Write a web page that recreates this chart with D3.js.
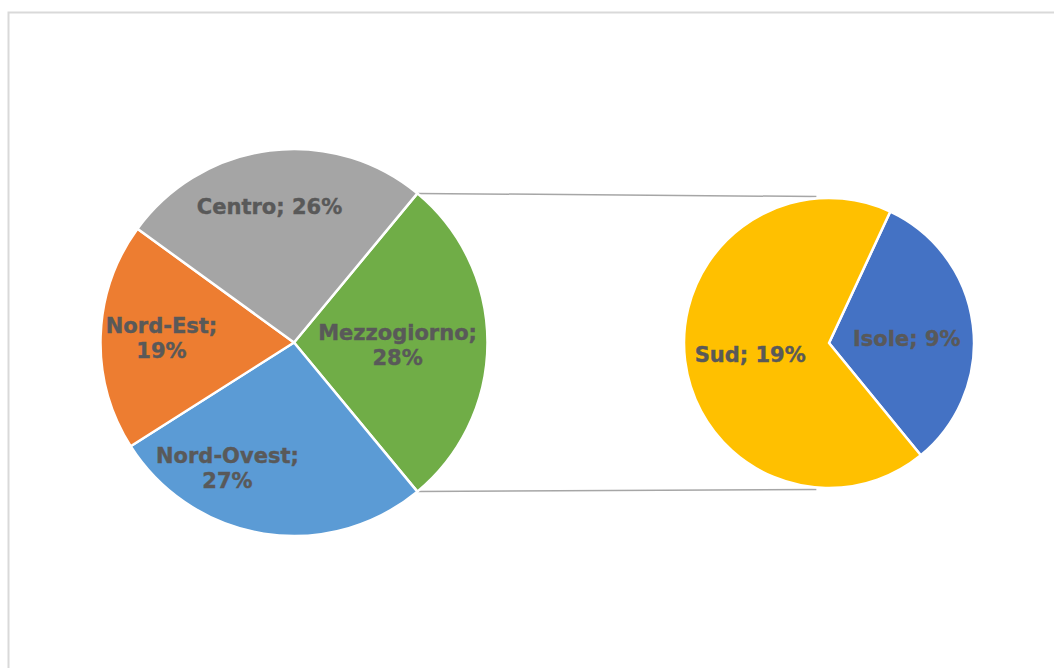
<!DOCTYPE html>
<html>
<head>
<meta charset="UTF-8" />
<title>Pie of pie</title>
<script src="https://cdn.jsdelivr.net/npm/d3@7/dist/d3.min.js"></script>
<style>
body{margin:0;background:#fff;}
text{font-family:"DejaVu Sans",Verdana,sans-serif;font-weight:bold;fill:#595959;stroke:#595959;stroke-width:0.4px;}
</style>
</head>
<body>
<div id="chart"></div>
<script type="text/javascript">
var w=1054,h=668;

// main pie (the first slice is split into the secondary pie)
var mainNames=['Mezzogiorno','Nord-Ovest','Nord-Est','Centro'];
var mainValues=[28,27,19,26];
var mainColors=['#70ad47','#5b9bd5','#ed7d31','#a5a5a5'];

// secondary pie
var subNames=['Isole','Sud'];
var subValues=[9,19];
var subColors=['#4472c4','#ffc000'];

var cx1=294,cy1=342.5,r1=193.5;
var cx2=829,cy2=343,r2=145;
var subStart=25; // degrees, where Isole starts

// little nudges so labels stay inside the slices, like excel does
var nudge={
  'Centro':[-8,-5],
  'Nord-Est':[-1,0],
  'Mezzogiorno':[-28,2],
  'Nord-Ovest':[-46,-4],
  'Sud':[19,0],
  'Isole':[-20,8]
};
// which labels wrap after the ";"
var wrap={'Nord-Est':true,'Mezzogiorno':true,'Nord-Ovest':true};

var svg=d3.select('#chart')
          .append('svg')
          .attr('width',w)
          .attr('height',h);

svg.append('rect')
   .attr('x',8.5).attr('y',12.5)
   .attr('width',w+20).attr('height',h+20)
   .attr('fill','white')
   .attr('stroke','#d9d9d9')
   .attr('stroke-width',2);

var rad=Math.PI/180;
var total=d3.sum(mainValues);
var half=mainValues[0]/total*Math.PI;

var mainPie=d3.pie().sort(null)
              .startAngle(Math.PI/2-half)
              .endAngle(Math.PI/2-half+2*Math.PI);
var subPie=d3.pie().sort(null)
             .startAngle(subStart*rad)
             .endAngle(subStart*rad+2*Math.PI);

var mainArcs=mainPie(mainValues);
var subArcs=subPie(subValues);

var arc1=d3.arc().innerRadius(0).outerRadius(r1);
var arc2=d3.arc().innerRadius(0).outerRadius(r2);
var lab1=d3.arc().innerRadius(r1*0.68).outerRadius(r1*0.68);
var lab2=d3.arc().innerRadius(r2*0.68).outerRadius(r2*0.68);

// connector lines from the split slice to the secondary pie
var a0=mainArcs[0].startAngle,a1=mainArcs[0].endAngle;
var conn=[
  [[cx1+r1*Math.sin(a0),cy1-r1*Math.cos(a0)],[cx2+r2*Math.sin(-5*rad),cy2-r2*Math.cos(-5*rad)-2]],
  [[cx1+r1*Math.sin(a1),cy1-r1*Math.cos(a1)],[cx2+r2*Math.sin(185*rad),cy2-r2*Math.cos(185*rad)+2]]
];
svg.selectAll('line.conn')
   .data(conn)
   .enter()
   .append('line')
   .attr('class','conn')
   .attr('x1',function(d){return d[0][0];})
   .attr('y1',function(d){return d[0][1];})
   .attr('x2',function(d){return d[1][0];})
   .attr('y2',function(d){return d[1][1];})
   .attr('stroke','#a6a6a6')
   .attr('stroke-width',1.5);

function drawPie(arcs,names,colors,arc,lab,cx,cy){
  var g=svg.append('g').attr('transform','translate('+cx+','+cy+')');
  g.selectAll('path')
   .data(arcs)
   .enter()
   .append('path')
   .attr('d',arc)
   .attr('fill',function(d,i){return colors[i];})
   .attr('stroke','white')
   .attr('stroke-width',2.5)
   .attr('stroke-linejoin','round');

  g.selectAll('text')
   .data(arcs)
   .enter()
   .append('text')
   .attr('text-anchor','middle')
   .attr('font-size','21px')
   .each(function(d,i){
     var name=names[i];
     var c=lab.centroid(d);
     var n=nudge[name]||[0,0];
     var x=c[0]+n[0],y=c[1]+n[1];
     var t=d3.select(this);
     var pct=Math.round(d.data/total*100)+'%';
     if(wrap[name]){
       t.append('tspan').attr('x',x).attr('y',y-12+7).text(name+';');
       t.append('tspan').attr('x',x).attr('y',y+13+7).text(pct);
     }else{
       t.append('tspan').attr('x',x).attr('y',y+7).text(name+'; '+pct);
     }
   });
}

drawPie(mainArcs,mainNames,mainColors,arc1,lab1,cx1,cy1);
drawPie(subArcs,subNames,subColors,arc2,lab2,cx2,cy2);
</script>
</body>
</html>
